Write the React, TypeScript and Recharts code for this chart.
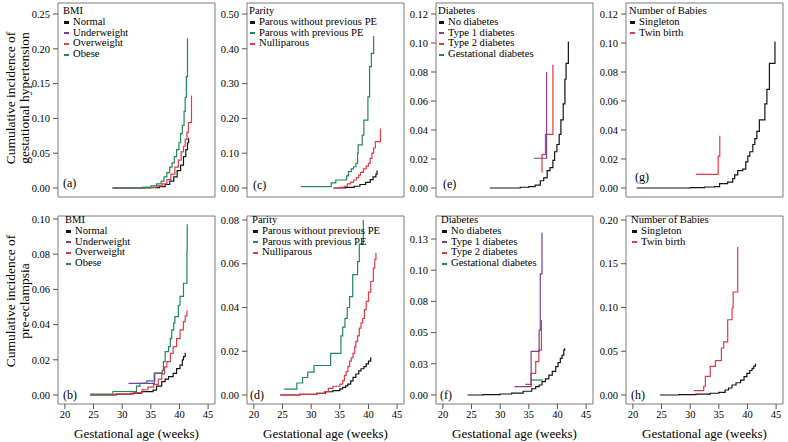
import React from 'react';
import { LineChart, Line, XAxis, YAxis, ReferenceArea } from 'recharts';

const FONT = 'Liberation Serif, Times New Roman, serif';
const BLACK = '#141414';
const PURPLE = '#7b3f99';
const RED = '#e23a45';
const GREEN = '#22875a';

// x ticks (weeks)
const weekTicks = [20, 25, 30, 35, 40, 45];
const weekTicksG = [28, 30, 32, 34, 36, 38, 40, 42];

// y ticks
const ticksA = [0, 0.05, 0.1, 0.15, 0.2, 0.25];
const ticksC = [0, 0.1, 0.2, 0.3, 0.4, 0.5];
const ticksE = [0, 0.02, 0.04, 0.06, 0.08, 0.1, 0.12];
const ticksB = [0, 0.02, 0.04, 0.06, 0.08, 0.1];
const ticksD = [0, 0.02, 0.04, 0.06, 0.08];
const ticksF = [0, 0.025, 0.05, 0.075, 0.1, 0.125];
const labelsF = ['0.00', '0.03', '0.05', '0.08', '0.10', '0.13'];
const ticksH = [0, 0.05, 0.1, 0.15, 0.2];

// (a) gestational hypertension by BMI
const aNormal = [[28.3, 0], [35, 0.0005], [36.5, 0.002], [37.5, 0.005], [38.3, 0.01], [39, 0.016], [39.6, 0.025], [40.2, 0.033], [40.7, 0.045], [41.1, 0.055], [41.4, 0.065], [41.6, 0.072]];
const aOverweight = [[28.5, 0], [34, 0.001], [36, 0.003], [37, 0.006], [37.8, 0.012], [38.5, 0.02], [39.2, 0.03], [39.8, 0.04], [40.3, 0.052], [40.7, 0.06], [41.0, 0.07], [41.3, 0.08], [41.55, 0.094], [42.1, 0.133]];
const aObese = [[28.3, 0], [33.5, 0.001], [35, 0.003], [36, 0.006], [36.8, 0.01], [37.3, 0.016], [37.8, 0.022], [38.3, 0.03], [38.7, 0.036], [39.1, 0.045], [39.5, 0.055], [39.9, 0.065], [40.2, 0.078], [40.5, 0.09], [40.8, 0.11], [41.0, 0.13], [41.2, 0.16], [41.4, 0.215]];

// (c) gestational hypertension by parity
const cParousNoPE = [[33.9, 0], [36, 0.002], [37.5, 0.005], [38.5, 0.01], [39.5, 0.016], [40.3, 0.024], [40.8, 0.032], [41.3, 0.04], [41.5, 0.05]];
const cParousPE = [[28.2, 0.004], [33.5, 0.015], [34.3, 0.023], [36.2, 0.035], [36.5, 0.047], [37.0, 0.055], [37.4, 0.061], [37.8, 0.071], [38.1, 0.1], [38.2, 0.124], [38.9, 0.152], [39.2, 0.195], [39.9, 0.262], [40.2, 0.349], [40.5, 0.387], [40.9, 0.437]];
const cNulliparous = [[33.9, 0], [35, 0.002], [35.8, 0.005], [36.3, 0.012], [36.9, 0.017], [37.4, 0.023], [37.9, 0.03], [38.3, 0.037], [38.6, 0.045], [39.1, 0.055], [39.6, 0.063], [40.0, 0.071], [40.3, 0.085], [40.6, 0.1], [40.9, 0.115], [41.2, 0.133], [42.1, 0.171]];

// (e) gestational hypertension by diabetes
const eNoDiabetes = [[28.2, 0], [33.5, 0.0005], [35, 0.001], [36.1, 0.002], [37, 0.005], [37.6, 0.007], [38.2, 0.012], [38.7, 0.014], [39.2, 0.019], [39.5, 0.025], [39.9, 0.03], [40.3, 0.037], [40.6, 0.047], [41.0, 0.058], [41.3, 0.075], [41.5, 0.086], [41.9, 0.101]];
const eType1 = [[35.9, 0.0205], [38.1, 0.08]];
const eType2 = [[37.25, 0.011], [37.3, 0.023], [37.9, 0.037], [39.2, 0.085]];

// (g) gestational hypertension by number of babies
const gSingleton = [[28.26, 0], [33.6, 0.0003], [35, 0.0007], [36.0, 0.001], [36.5, 0.003], [37.3, 0.004], [37.8, 0.0064], [38.0, 0.009], [38.3, 0.012], [38.8, 0.013], [39.1, 0.018], [39.3, 0.022], [39.5, 0.025], [39.8, 0.03], [40.0, 0.034], [40.2, 0.039], [40.45, 0.047], [41.0, 0.058], [41.2, 0.068], [41.45, 0.086], [42.0, 0.101]];
const gTwin = [[34.16, 0.0094], [36.36, 0.022], [36.52, 0.036]];

// (b) pre-eclampsia by BMI
const bNormal = [[24.4, 0], [29, 0.0005], [31.5, 0.001], [33.4, 0.0019], [35.4, 0.0028], [36.0, 0.005], [36.9, 0.0076], [37.5, 0.009], [38.1, 0.0104], [38.9, 0.0123], [39.5, 0.015], [40.1, 0.017], [40.5, 0.02], [40.7, 0.0218], [41.0, 0.024]];
const bUnderweight = [[31.1, 0.0066], [35.6, 0.0125], [37.0, 0.0125]];
const bOverweight = [[24.4, 0], [28.7, 0.0005], [32.0, 0.0013], [33.5, 0.003], [34.5, 0.0045], [35.5, 0.006], [36.3, 0.009], [36.9, 0.012], [37.4, 0.016], [37.8, 0.019], [38.4, 0.0237], [38.9, 0.0275], [39.5, 0.032], [40.1, 0.037], [40.7, 0.0417], [41.0, 0.045], [41.3, 0.048]];
const bObese = [[24.4, 0.0005], [28.4, 0.002], [32.5, 0.005], [33.1, 0.0066], [34.3, 0.008], [35.7, 0.0123], [37.0, 0.014], [37.2, 0.019], [37.5, 0.0246], [38.1, 0.0275], [38.4, 0.032], [38.65, 0.037], [39.0, 0.041], [39.2, 0.0445], [39.8, 0.051], [40.1, 0.056], [40.7, 0.0635], [41.3, 0.082], [41.35, 0.097]];

// (d) pre-eclampsia by parity
const dParousNoPE = [[24.6, 0], [28, 0.0003], [31, 0.0008], [32.5, 0.0015], [33.8, 0.002], [35.0, 0.0028], [35.5, 0.0035], [36.0, 0.0042], [36.4, 0.005], [36.9, 0.0065], [37.3, 0.0081], [37.8, 0.0096], [38.3, 0.011], [38.7, 0.012], [39.2, 0.013], [39.6, 0.0142], [40.0, 0.0155], [40.4, 0.0173]];
const dParousPE = [[25.3, 0.0027], [27.5, 0.0055], [28.5, 0.008], [29.4, 0.0105], [30.5, 0.0135], [33.4, 0.019], [35.2, 0.027], [35.5, 0.031], [35.9, 0.035], [36.3, 0.04], [36.7, 0.045], [37.25, 0.055], [38.1, 0.061], [38.4, 0.069], [39.1, 0.08]];
const dNulliparous = [[24.6, 0], [28, 0.0003], [31, 0.0008], [32.3, 0.0015], [33.0, 0.003], [33.8, 0.004], [35.0, 0.005], [35.5, 0.0066], [35.8, 0.009], [36.1, 0.0107], [36.4, 0.013], [36.7, 0.0155], [37.0, 0.017], [37.3, 0.019], [37.6, 0.022], [37.8, 0.0245], [38.1, 0.027], [38.4, 0.0306], [38.7, 0.033], [39.0, 0.035], [39.3, 0.039], [39.6, 0.0428], [40.0, 0.047], [40.4, 0.052], [40.85, 0.058], [41.1, 0.062], [41.3, 0.065]];

// (f) pre-eclampsia by diabetes
const fNoDiabetes = [[24.3, 0], [27, 0.0003], [30, 0.0008], [32, 0.0015], [34, 0.003], [35.5, 0.005], [36.2, 0.0067], [36.8, 0.008], [37.3, 0.0107], [37.9, 0.013], [38.5, 0.016], [39.1, 0.019], [39.7, 0.0227], [40.1, 0.026], [40.5, 0.0294], [40.8, 0.032], [41.1, 0.036], [41.25, 0.0375]];
const fType1 = [[32.5, 0.0067], [35.4, 0.035], [36.8, 0.052], [37.0, 0.097], [37.3, 0.13]];
const fType2 = [[34.4, 0.0085], [35.4, 0.0174], [36.2, 0.0267], [36.75, 0.036], [37.2, 0.06]];
const fGestational = [[35.3, 0.012], [37.5, 0.012]];

// (h) pre-eclampsia by number of babies
const hSingleton = [[24.7, 0], [28, 0.0005], [31, 0.001], [33.5, 0.002], [35, 0.003], [36.1, 0.0057], [36.7, 0.008], [37.3, 0.0114], [38.0, 0.014], [38.8, 0.0171], [39.4, 0.021], [39.9, 0.0248], [40.4, 0.028], [40.8, 0.0305], [41.1, 0.033], [41.4, 0.036]];
const hTwin = [[30.6, 0.0049], [32.36, 0.01], [32.65, 0.0213], [33.5, 0.0328], [34.4, 0.0392], [35.45, 0.0537], [35.85, 0.0606], [36.55, 0.086], [37.3, 0.0994], [37.5, 0.1177], [38.3, 0.169]];

const bmiLegend = [['Normal', BLACK], ['Underweight', PURPLE], ['Overweight', RED], ['Obese', GREEN]];
const parityLegend = [['Parous without previous PE', BLACK], ['Parous with previous PE', GREEN], ['Nulliparous', RED]];
const diabetesLegend = [['No diabetes', BLACK], ['Type 1 diabetes', PURPLE], ['Type 2 diabetes', RED], ['Gestational diabetes', GREEN]];
const babiesLegend = [['Singleton', BLACK], ['Twin birth', RED]];

const toPts = (arr: number[][]) => arr.map(([x, y]) => ({ x, y }));
const XDOM = [18.8, 46.2];

const panels = [
  { tag: '(a)', row: 0, left: 58, xDom: XDOM, xTicks: weekTicks, yDom: [-0.01293, 0.2658], yTicks: ticksA, title: 'BMI', legend: bmiLegend, lx: 63, tagX: 63, tagY: 183,
    series: [[aNormal, BLACK], [aOverweight, RED], [aObese, GREEN]] },
  { tag: '(c)', row: 0, left: 247, xDom: XDOM, xTicks: weekTicks, yDom: [-0.02586, 0.53161], yTicks: ticksC, title: 'Parity', legend: parityLegend, lx: 249, tagX: 253, tagY: 185,
    series: [[cParousNoPE, BLACK], [cNulliparous, RED], [cParousPE, GREEN]] },
  { tag: '(e)', row: 0, left: 436, xDom: XDOM, xTicks: weekTicks, yDom: [-0.00621, 0.12759], yTicks: ticksE, title: 'Diabetes', legend: diabetesLegend, lx: 438, tagX: 443, tagY: 184,
    series: [[eNoDiabetes, BLACK], [eType2, RED], [eType1, PURPLE]] },
  { tag: '(g)', row: 0, left: 626, xDom: [27.2, 42.8], xTicks: weekTicksG, yDom: [-0.00621, 0.12759], yTicks: ticksE, title: 'Number of Babies', legend: babiesLegend, lx: 629, tagX: 635, tagY: 177,
    series: [[gSingleton, BLACK], [gTwin, RED]] },
  { tag: '(b)', row: 1, left: 58, xDom: XDOM, xTicks: weekTicks, yDom: [-0.00511, 0.1017], yTicks: ticksB, title: 'BMI', legend: bmiLegend, lx: 65, tagX: 63, tagY: 395,
    series: [[bNormal, BLACK], [bOverweight, RED], [bObese, GREEN], [bUnderweight, PURPLE]] },
  { tag: '(d)', row: 1, left: 247, xDom: XDOM, xTicks: weekTicks, yDom: [-0.00411, 0.08183], yTicks: ticksD, title: 'Parity', legend: parityLegend, lx: 252, tagX: 250, tagY: 395,
    series: [[dParousNoPE, BLACK], [dNulliparous, RED], [dParousPE, GREEN]] },
  { tag: '(f)', row: 1, left: 436, xDom: XDOM, xTicks: weekTicks, yDom: [-0.00721, 0.14343], yTicks: ticksF, yLabels: labelsF, title: 'Diabetes', legend: diabetesLegend, lx: 441, tagX: 440, tagY: 395,
    series: [[fNoDiabetes, BLACK], [fGestational, GREEN], [fType2, RED], [fType1, PURPLE]] },
  { tag: '(h)', row: 1, left: 626, xDom: XDOM, xTicks: weekTicks, yDom: [-0.01029, 0.20457], yTicks: ticksH, title: 'Number of Babies', legend: babiesLegend, lx: 631, tagX: 631, tagY: 395,
    series: [[hSingleton, BLACK], [hTwin, RED]] },
];

const txt = { fontFamily: FONT, fill: '#000' };

function Panel({ p }: { p: any }) {
  const bottom = p.row === 1;
  const top = bottom ? 210 : 0;
  const mTop = bottom ? 6 : 3;
  const plotH = bottom ? 188 : 194;
  const axisH = bottom ? 36 : 12;
  const W = 50 + 157 + 2;
  const H = mTop + plotH + axisH + 1;
  const fmt = (v: number) => {
    if (p.yLabels) return p.yLabels[p.yTicks.indexOf(v)] ?? v.toFixed(2);
    return v.toFixed(2);
  };
  return (
    <div style={{ position: 'absolute', left: p.left - 50, top }}>
      <LineChart width={W} height={H} margin={{ top: mTop, right: 2, bottom: 1, left: 0 }} style={{ fontFamily: FONT }}>
        <XAxis type="number" dataKey="x" domain={p.xDom} ticks={p.xTicks} allowDataOverflow
          axisLine={false} tickLine={{ stroke: '#555' }} tickSize={5} tickMargin={2} height={axisH}
          tick={bottom ? { ...txt, fontSize: 10.5 } : false}
          label={bottom ? { value: 'Gestational age (weeks)', position: 'insideBottom', offset: 2, fontSize: 13, ...txt } : undefined} />
        <YAxis type="number" dataKey="y" domain={p.yDom} ticks={p.yTicks} allowDataOverflow width={50}
          axisLine={false} tickLine={{ stroke: '#555' }} tickSize={5} tickMargin={3}
          tick={{ ...txt, fontSize: 10.5 }} tickFormatter={fmt} />
        <ReferenceArea x1={p.xDom[0]} x2={p.xDom[1]} y1={p.yDom[0]} y2={p.yDom[1]} fill="none" stroke="#7a7a7a" strokeWidth={1} />
        {p.series.map(([d, c]: any, i: number) => (
          <Line key={i} data={toPts(d)} dataKey="y" type="stepAfter" stroke={c} strokeWidth={1.2}
            dot={false} activeDot={false} isAnimationActive={false} />
        ))}
      </LineChart>
    </div>
  );
}

function LegendBox({ p }: { p: any }) {
  const top = p.row === 1 ? 215 : 6;
  return (
    <div style={{ position: 'absolute', left: p.lx, top, fontFamily: FONT, fontSize: 10.6, lineHeight: '10.8px', whiteSpace: 'nowrap', color: '#000' }}>
      <div>{p.title}</div>
      {p.legend.map(([name, c]: any) => (
        <div key={name}>
          <span style={{ display: 'inline-block', width: 5, height: 2.5, background: c, marginLeft: 1, marginRight: 4, verticalAlign: 'middle' }} />
          {name}
        </div>
      ))}
    </div>
  );
}

export default function App() {
  return (
    <div style={{ position: 'absolute', left: 0, top: 0, width: 788, height: 442, background: '#fff', overflow: 'hidden', fontFamily: FONT }}>
      <svg width={40} height={442} style={{ position: 'absolute', left: 0, top: 0 }}>
        <g fontFamily={FONT} fontSize={13.5} fill="#000" textAnchor="middle">
          <text transform="translate(10,98) rotate(-90)" dominantBaseline="central">Cumulative incidence of</text>
          <text transform="translate(24,98) rotate(-90)" dominantBaseline="central">gestational hypertension</text>
          <text transform="translate(10,301) rotate(-90)" dominantBaseline="central">Cumulative incidence of</text>
          <text transform="translate(24,301) rotate(-90)" dominantBaseline="central">pre-eclampsia</text>
        </g>
      </svg>
      {panels.map((p) => <Panel key={p.tag} p={p} />)}
      {panels.map((p) => <LegendBox key={'l' + p.tag} p={p} />)}
      {panels.map((p) => (
        <div key={'t' + p.tag} style={{ position: 'absolute', left: p.tagX, top: p.tagY - 7, fontFamily: FONT, fontSize: 12, lineHeight: '14px' }}>{p.tag}</div>
      ))}
    </div>
  );
}
